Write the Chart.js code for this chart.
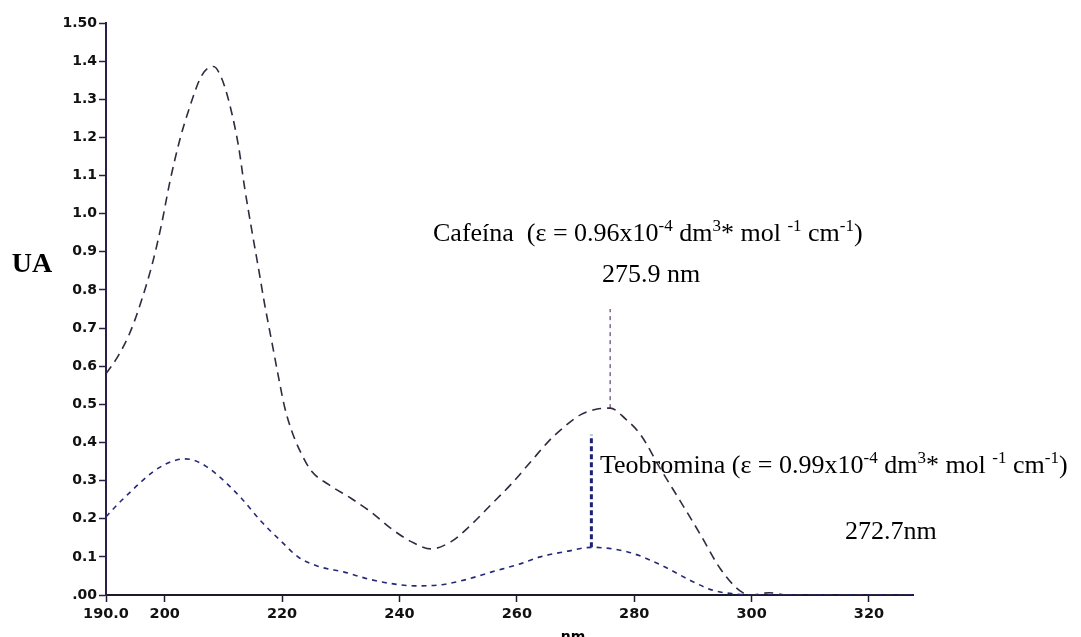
<!DOCTYPE html>
<html>
<head>
<meta charset="utf-8">
<script src="https://cdn.jsdelivr.net/npm/chart.js@4.4.1/dist/chart.umd.min.js"></script>
<style>
  html, body { margin: 0; padding: 0; background: #fff; }
  #caixa { width: 1081px; height: 637px; }
</style>
</head>
<body>
<div id="caixa"><canvas id="espectro" width="1081" height="637"></canvas></div>
<script>
// espectro UV da cafeína (nm, absorbância)
const cafeinaNm = [190.0, 192.0, 194.0, 196.0, 198.0, 199.5, 200.9, 202.6, 204.1, 206.3,
  208.3, 209.7, 211.1, 212.6, 213.6, 214.8, 216.0, 217.0, 218.3, 219.6,
  220.4, 221.6, 223.3, 225.0, 227.9, 231.8, 235.2, 238.6, 242.0, 245.4,
  248.8, 252.2, 255.6, 259.0, 262.4, 265.4, 268.0, 270.9, 273.5, 275.9,
  278.5, 281.1, 284.5, 287.9, 291.3, 294.7, 298.1, 300.0, 303.0, 306.0, 327.5];
const cafeinaUA = [0.58, 0.625, 0.685, 0.77, 0.875, 0.975, 1.085, 1.195, 1.272, 1.362,
  1.386, 1.355, 1.285, 1.175, 1.07, 0.96, 0.855, 0.765, 0.66, 0.555,
  0.495, 0.432, 0.37, 0.325, 0.29, 0.253, 0.217, 0.174, 0.14, 0.121,
  0.14, 0.184, 0.237, 0.29, 0.35, 0.403, 0.44, 0.473, 0.487, 0.49,
  0.462, 0.42, 0.33, 0.245, 0.158, 0.068, 0.01, 0.0, 0.006, 0.0, 0.0];

// espectro UV da teobromina
const teobrominaNm = [190.0, 192.0, 194.0, 196.0, 198.0, 200.0, 202.0, 203.5, 205.0, 207.0,
  209.7, 213.1, 216.5, 219.9, 222.8, 226.2, 230.6, 234.7, 238.6, 242.5,
  246.6, 251.0, 255.6, 260.2, 264.0, 268.7, 272.7, 278.9, 284.5, 290.1,
  293.5, 297.0, 300.0, 327.5];
const teobrominaUA = [0.205, 0.238, 0.268, 0.297, 0.323, 0.342, 0.354, 0.357, 0.353, 0.338,
  0.305, 0.253, 0.192, 0.14, 0.099, 0.075, 0.06, 0.042, 0.03, 0.024,
  0.026, 0.039, 0.06, 0.08, 0.1, 0.115, 0.125, 0.113, 0.079, 0.034,
  0.012, 0.003, 0.0, 0.0];

// máximos marcados com linha vertical
const picoCafeina = 275.9;
const picoCafeinaUA = 0.49;
const topoLinhaCafeina = 0.75;
const picoTeobromina = 272.7;
const picoTeobrominaUA = 0.125;
const topoLinhaTeobromina = 0.42;

const ticksNm = [190, 200, 220, 240, 260, 280, 300, 320];

const pares = (xs, ys) => xs.map((x, i) => ({ x: x, y: ys[i] }));

// texto com expoentes: [texto, sobrescrito?]
function escreve(ctx, partes, x, y, tam) {
  let px = x;
  partes.forEach(p => {
    const sup = p[1];
    ctx.font = (sup ? Math.round(tam * 0.65) : tam) + 'px "Liberation Serif", "Times New Roman", serif';
    ctx.fillText(p[0], px, sup ? y - tam * 0.38 : y);
    px += ctx.measureText(p[0]).width;
  });
}

const textos = {
  id: 'textos',
  afterDraw(chart) {
    const ctx = chart.ctx;
    ctx.save();
    ctx.fillStyle = '#000';
    ctx.textAlign = 'left';
    ctx.textBaseline = 'alphabetic';
    escreve(ctx, [['Cafeína  (ε = 0.96x10'], ['-4', 1], [' dm'], ['3', 1], ['* mol '], ['-1', 1], [' cm'], ['-1', 1], [')']], 433, 241, 26);
    escreve(ctx, [[picoCafeina.toFixed(1) + ' nm']], 602, 282, 26);
    escreve(ctx, [['Teobromina (ε = 0.99x10'], ['-4', 1], [' dm'], ['3', 1], ['* mol '], ['-1', 1], [' cm'], ['-1', 1], [')']], 600, 473, 26);
    escreve(ctx, [[picoTeobromina.toFixed(1) + 'nm']], 845, 539, 26);

    ctx.font = 'bold 28px "Liberation Serif", serif';
    ctx.textAlign = 'center';
    ctx.fillText('UA', 32, 272);

    ctx.font = 'bold 14px "DejaVu Sans", sans-serif';
    ctx.textBaseline = 'top';
    ctx.fillText('nm', 573, 630);
    ctx.restore();
  }
};

const ctx = document.getElementById('espectro');
new Chart(ctx.getContext('2d'), {
  type: 'scatter',
  data: {
    datasets: [
      {
        data: pares(cafeinaNm, cafeinaUA),
        showLine: true,
        borderColor: '#34293f',
        borderWidth: 1.6,
        borderDash: [9, 6],
        pointRadius: 0,
        cubicInterpolationMode: 'monotone'
      },
      {
        data: pares(teobrominaNm, teobrominaUA),
        showLine: true,
        borderColor: '#262878',
        borderWidth: 1.6,
        borderDash: [5, 5],
        pointRadius: 0,
        cubicInterpolationMode: 'monotone'
      },
      {
        data: [{ x: picoCafeina, y: picoCafeinaUA }, { x: picoCafeina, y: topoLinhaCafeina }],
        showLine: true,
        borderColor: '#6d4f7d',
        borderWidth: 1.3,
        borderDash: [4, 4],
        pointRadius: 0
      },
      {
        data: [{ x: picoTeobromina, y: picoTeobrominaUA }, { x: picoTeobromina, y: topoLinhaTeobromina }],
        showLine: true,
        borderColor: '#1c1f7a',
        borderWidth: 3,
        borderDash: [5, 3],
        pointRadius: 0
      }
    ]
  },
  options: {
    responsive: false,
    animation: false,
    layout: { padding: { top: 23, right: 168, left: 0, bottom: 0 } },
    plugins: {
      legend: { display: false },
      tooltip: { enabled: false }
    },
    scales: {
      x: {
        type: 'linear',
        min: 190,
        max: 327.5,
        afterBuildTicks: s => { s.ticks = ticksNm.map(v => ({ value: v })); },
        afterFit: s => { s.height = 42; },
        border: { color: '#1e1a2e', width: 2 },
        grid: { drawOnChartArea: false, tickLength: 7, color: '#1e1a2e', tickWidth: 1.5 },
        ticks: {
          color: '#111',
          padding: 4,
          maxRotation: 0,
          font: { family: 'DejaVu Sans', weight: 'bold', size: 14.5 },
          callback: v => v === 190 ? '190.0' : String(v)
        }
      },
      y: {
        min: 0,
        max: 1.5,
        afterFit: s => { s.width = 106; },
        border: { color: '#2b1f4a', width: 2 },
        grid: { drawOnChartArea: false, tickLength: 7, color: '#2b1f4a', tickWidth: 1.5 },
        ticks: {
          stepSize: 0.1,
          color: '#111',
          padding: 2,
          font: { family: 'DejaVu Sans', weight: 'bold', size: 14 },
          callback: v => {
            if (Math.abs(v) < 1e-6) return '.00';
            if (Math.abs(v - 1.5) < 1e-6) return '1.50';
            return v.toFixed(1);
          }
        }
      }
    }
  },
  plugins: [textos]
});
</script>
</body>
</html>
